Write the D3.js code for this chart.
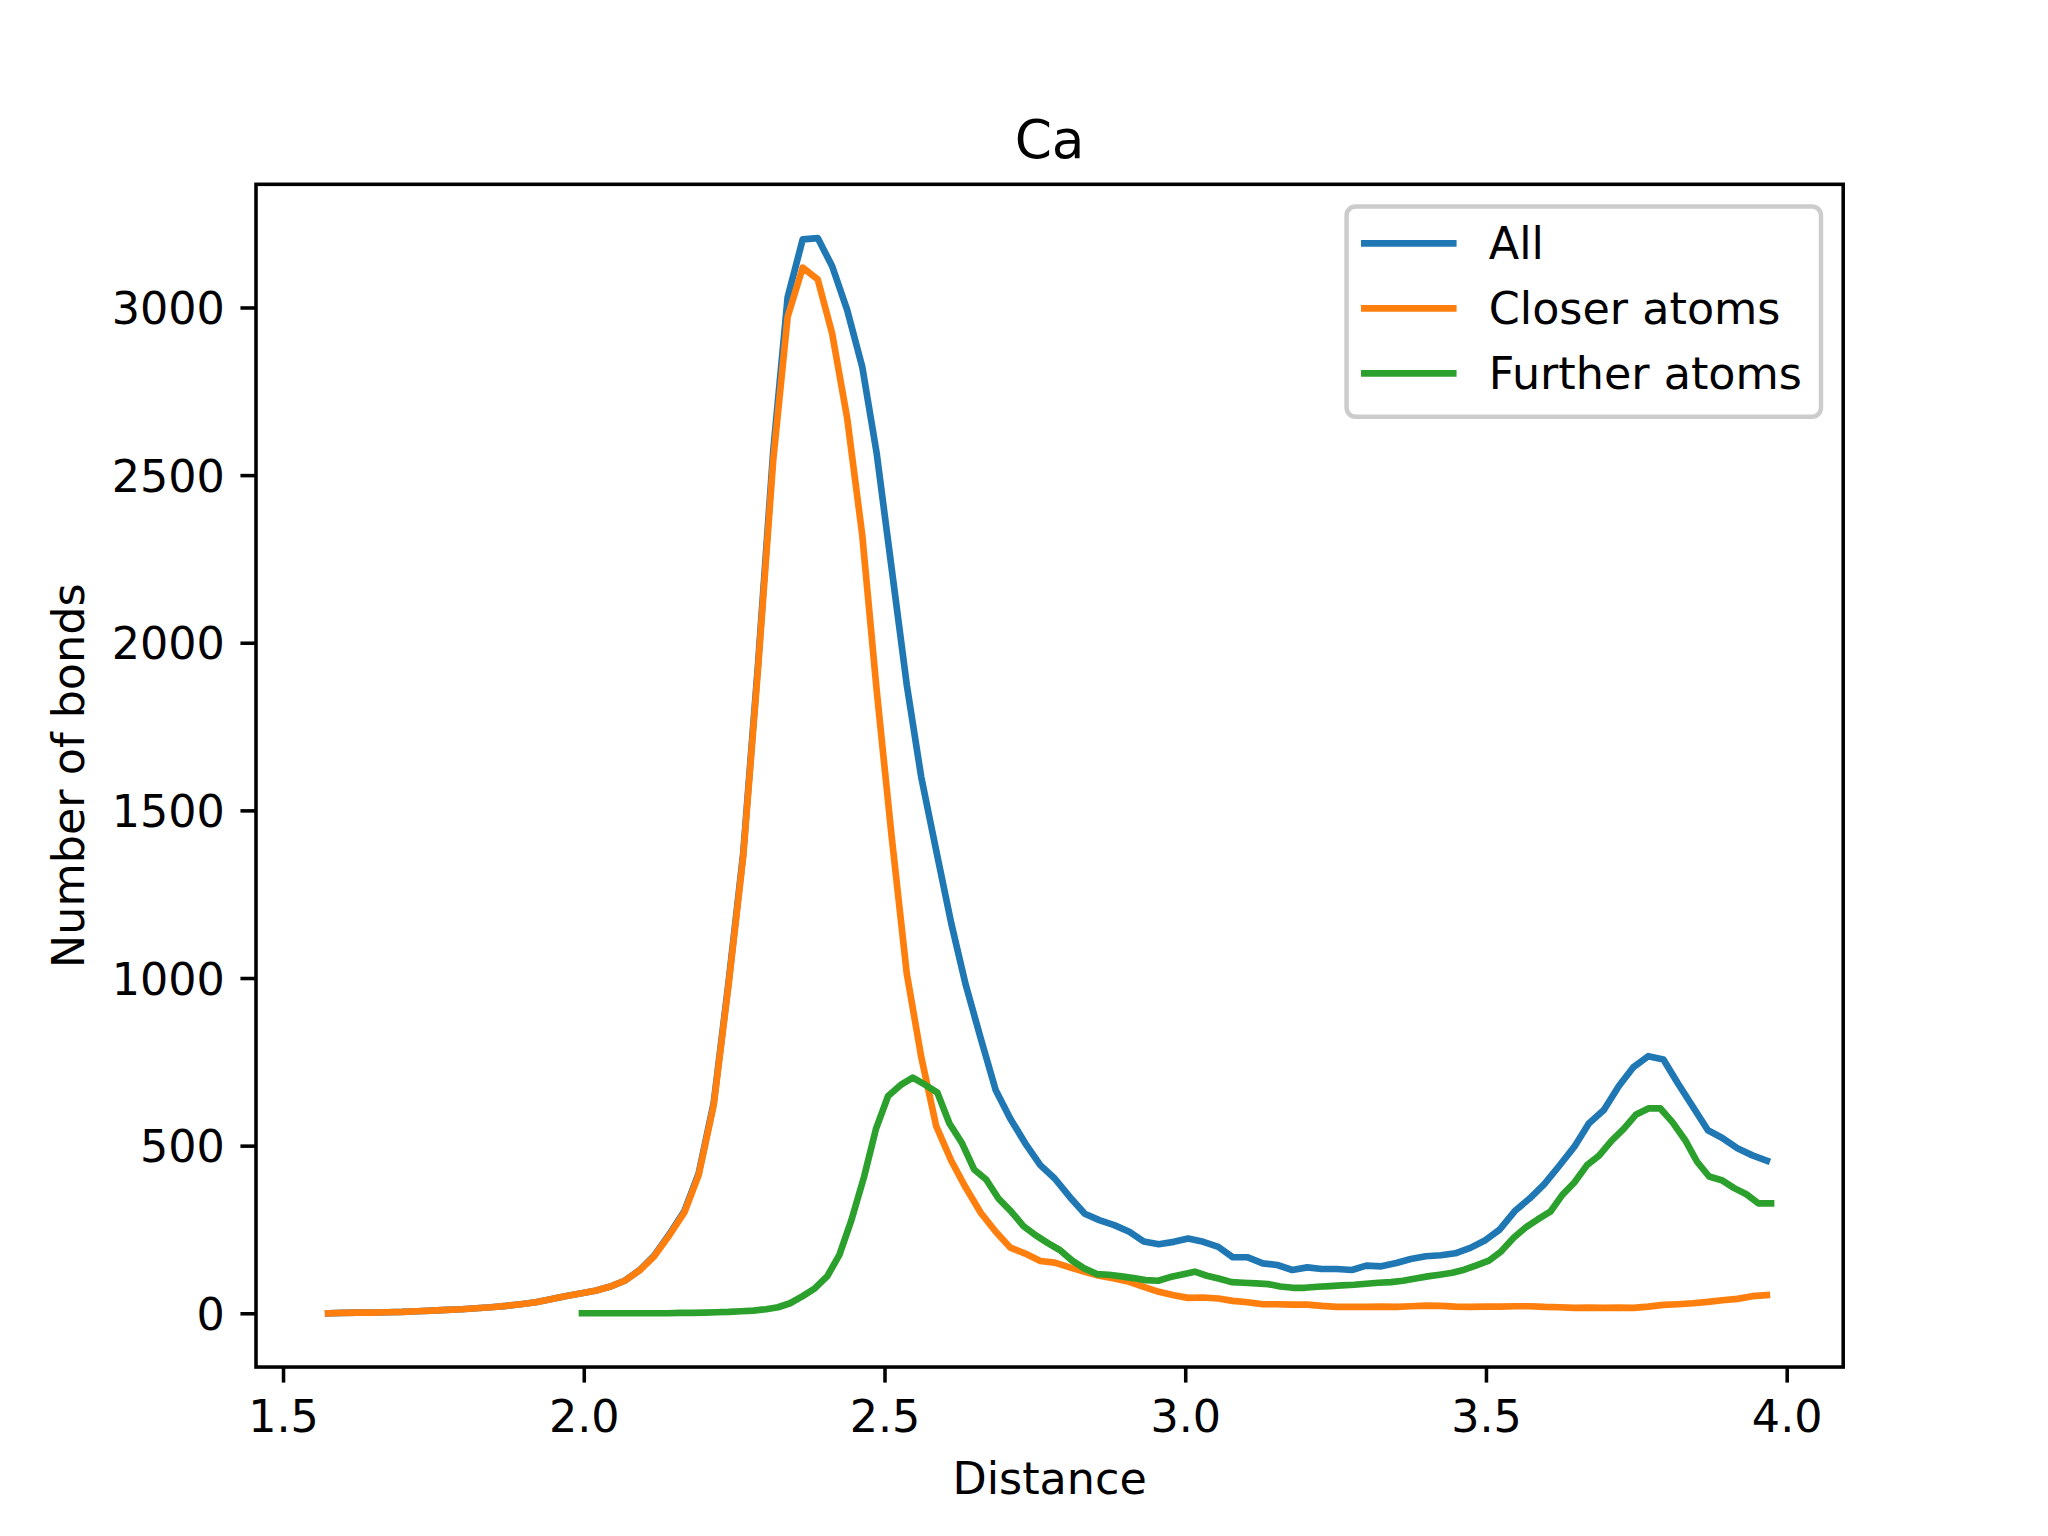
<!DOCTYPE html>
<html>
<head>
<meta charset="utf-8">
<script src="https://cdn.jsdelivr.net/npm/d3@7"></script>
<style>
  html, body { margin: 0; padding: 0; background: #ffffff; }
  svg { display: block; }
  text { font-family: "DejaVu Sans", sans-serif; fill: #000; }
</style>
</head>
<body>
<svg id="chart" width="2048" height="1536"></svg>
<script>
// ---------------- data ----------------
const title = "Ca";
const xLabel = "Distance";
const yLabel = "Number of bonds";
const seriesNames = ["All", "Closer atoms", "Further atoms"];
const seriesColors = ["#1f77b4", "#ff7f0e", "#2ca02c"];

// distance grid shared by "All" and "Closer atoms"
const distAll = [
  1.575, 1.599, 1.624, 1.649, 1.673, 1.698, 1.723, 1.747, 1.772, 1.797,
  1.821, 1.846, 1.871, 1.895, 1.920, 1.945, 1.969, 1.994, 2.019, 2.043,
  2.068, 2.093, 2.117, 2.142, 2.167, 2.191, 2.216, 2.241, 2.265, 2.290,
  2.315, 2.339, 2.364, 2.389, 2.413, 2.438, 2.463, 2.487, 2.512, 2.537,
  2.561, 2.586, 2.611, 2.635, 2.660, 2.685, 2.709, 2.734, 2.759, 2.783,
  2.808, 2.833, 2.857, 2.882, 2.907, 2.931, 2.956, 2.981, 3.005, 3.030,
  3.055, 3.079, 3.104, 3.129, 3.153, 3.178, 3.203, 3.227, 3.252, 3.277,
  3.301, 3.326, 3.351, 3.375, 3.400, 3.425, 3.449, 3.474, 3.499, 3.523,
  3.548, 3.573, 3.597, 3.622, 3.647, 3.671, 3.696, 3.721, 3.745, 3.770,
  3.795, 3.819, 3.844, 3.869, 3.893, 3.918, 3.943, 3.967
];

const countAll = [
  0, 1, 2, 2, 3, 4, 6, 8, 10, 12,
  15, 18, 22, 27, 33, 42, 51, 59, 67, 79,
  97, 129, 172, 235, 304, 417, 627, 991, 1370, 1942,
  2572, 3031, 3203, 3207, 3123, 2992, 2823, 2565, 2220, 1875,
  1600, 1380, 1163, 980, 820, 665, 581, 507, 442, 402,
  347, 297, 278, 263, 243, 214, 206, 213, 223, 213,
  198, 167, 167, 149, 144, 129, 137, 132, 132, 129,
  142, 140, 150, 162, 170, 173, 179, 195, 218, 250,
  305, 343, 385, 440, 497, 566, 606, 678, 734, 767,
  757, 686, 616, 546, 523, 492, 471, 455
];

const countCloser = [
  0, 1, 2, 2, 3, 4, 6, 8, 10, 12,
  15, 18, 22, 27, 33, 42, 51, 59, 67, 79,
  97, 128, 170, 232, 300, 412, 621, 984, 1361, 1930,
  2545, 2972, 3119, 3084, 2922, 2669, 2321, 1858, 1420, 1014,
  765, 558, 455, 375, 300, 243, 196, 178, 156, 151,
  137, 124, 112, 104, 94, 79, 64, 54, 46, 47,
  44, 37, 33, 27, 27, 26, 26, 22, 19, 19,
  19, 20, 19, 21, 23, 22, 20, 19, 20, 20,
  21, 21, 19, 18, 16, 17, 16, 17, 16, 20,
  25, 27, 30, 34, 39, 43, 51, 54
];

// distance grid of "Further atoms"
const distFurther = [
  1.997, 2.017, 2.038, 2.058, 2.078, 2.099, 2.119, 2.140, 2.160, 2.180,
  2.201, 2.221, 2.241, 2.262, 2.282, 2.303, 2.323, 2.343, 2.364, 2.384,
  2.405, 2.425, 2.445, 2.466, 2.486, 2.506, 2.527, 2.547, 2.568, 2.588,
  2.608, 2.629, 2.649, 2.669, 2.690, 2.710, 2.731, 2.751, 2.771, 2.792,
  2.812, 2.832, 2.853, 2.873, 2.894, 2.914, 2.934, 2.955, 2.975, 2.995,
  3.016, 3.036, 3.057, 3.077, 3.097, 3.118, 3.138, 3.158, 3.179, 3.199,
  3.220, 3.240, 3.260, 3.281, 3.301, 3.321, 3.342, 3.362, 3.383, 3.403,
  3.423, 3.444, 3.464, 3.484, 3.505, 3.525, 3.546, 3.566, 3.586, 3.607,
  3.627, 3.647, 3.668, 3.688, 3.709, 3.729, 3.749, 3.770, 3.790, 3.810,
  3.831, 3.851, 3.871, 3.892, 3.912, 3.933, 3.953, 3.974
];

const countFurther = [
  0, 0, 0, 0, 0, 0, 0, 0, 1, 1,
  2, 3, 4, 6, 8, 12, 18, 30, 51, 74,
  111, 174, 278, 407, 551, 648, 681, 703, 681, 658,
  566, 507, 429, 399, 341, 305, 260, 233, 210, 188,
  157, 134, 117, 115, 110, 105, 99, 97, 108, 116,
  124, 112, 103, 93, 91, 89, 87, 80, 76, 76,
  79, 81, 83, 85, 88, 91, 93, 97, 104, 110,
  115, 121, 130, 143, 157, 184, 225, 256, 280, 303,
  353, 390, 442, 470, 515, 550, 592, 611, 611, 570,
  517, 452, 408, 397, 374, 355, 328, 328
];

const xTicks = [1.5, 2.0, 2.5, 3.0, 3.5, 4.0];
const xTickLabels = ["1.5", "2.0", "2.5", "3.0", "3.5", "4.0"];
const yTicks = [0, 500, 1000, 1500, 2000, 2500, 3000];
const yTickLabels = ["0", "500", "1000", "1500", "2000", "2500", "3000"];

// ---------------- layout (matplotlib 6.4x4.8in @ 320 dpi) ----------------
const W = 2048, H = 1536;
const pt = 320 / 72;
const axL = 0.125 * W, axR = 0.9 * W, axT = H - 0.88 * H, axB = H - 0.11 * H;
const fs = 10 * pt;          // tick / label font size
const fsTitle = 12 * pt;
const lw = 1.5 * pt;         // line width
const spineW = 0.8 * pt;
const tickLen = 3.5 * pt, tickPad = 3.5 * pt;

const series = [
  { name: seriesNames[0], color: seriesColors[0], xs: distAll, ys: countAll },
  { name: seriesNames[1], color: seriesColors[1], xs: distAll, ys: countCloser },
  { name: seriesNames[2], color: seriesColors[2], xs: distFurther, ys: countFurther }
];

// autoscale with 5% margins like matplotlib
const allXs = distAll.concat(distFurther);
const allYs = countAll.concat(countCloser, countFurther);
const [x0, x1] = d3.extent(allXs);
const [y0, y1] = d3.extent(allYs);
const mx = (x1 - x0) * 0.05, my = (y1 - y0) * 0.05;

const x = d3.scaleLinear().domain([x0 - mx, x1 + mx]).range([axL, axR]);
const y = d3.scaleLinear().domain([y0 - my, y1 + my]).range([axB, axT]);

const svg = d3.select("#chart");
svg.append("rect").attr("width", W).attr("height", H).attr("fill", "#fff");

// ---------------- lines ----------------
const line = d3.line().x(d => x(d[0])).y(d => y(d[1]));
const plot = svg.append("g");
series.forEach(s => {
  const pts = s.xs.map((v, i) => [v, s.ys[i]]);
  plot.append("path")
    .attr("d", line(pts))
    .attr("fill", "none")
    .attr("stroke", s.color)
    .attr("stroke-width", lw)
    .attr("stroke-linejoin", "round")
    .attr("stroke-linecap", "square");
});

// ---------------- axes ----------------
const xAxis = d3.axisBottom(x)
  .tickValues(xTicks)
  .tickFormat((d, i) => xTickLabels[i])
  .tickSize(tickLen)
  .tickSizeOuter(0)
  .tickPadding(tickPad);
const gx = svg.append("g").attr("transform", `translate(0,${axB})`).call(xAxis);
gx.select(".domain").remove();
gx.selectAll(".tick line").attr("stroke", "#000").attr("stroke-width", spineW);
gx.selectAll(".tick text")
  .attr("y", tickLen + tickPad + 0.76 * fs)
  .attr("dy", null)
  .attr("font-size", fs)
  .attr("font-family", "DejaVu Sans")
  .attr("fill", "#000");

const yAxis = d3.axisLeft(y)
  .tickValues(yTicks)
  .tickFormat((d, i) => yTickLabels[i])
  .tickSize(tickLen)
  .tickSizeOuter(0)
  .tickPadding(tickPad);
const gy = svg.append("g").attr("transform", `translate(${axL},0)`).call(yAxis);
gy.select(".domain").remove();
gy.selectAll(".tick line").attr("stroke", "#000").attr("stroke-width", spineW);
gy.selectAll(".tick text")
  .attr("dy", "0.365em")
  .attr("font-size", fs)
  .attr("font-family", "DejaVu Sans")
  .attr("fill", "#000");

// spines
svg.append("rect")
  .attr("x", axL).attr("y", axT)
  .attr("width", axR - axL).attr("height", axB - axT)
  .attr("fill", "none")
  .attr("stroke", "#000")
  .attr("stroke-width", spineW)
  .attr("stroke-linejoin", "miter");

// ---------------- labels ----------------
svg.append("text")
  .attr("x", (axL + axR) / 2)
  .attr("y", axT - 6 * pt)
  .attr("text-anchor", "middle")
  .attr("font-size", fsTitle)
  .text(title);

svg.append("text")
  .attr("x", (axL + axR) / 2)
  .attr("y", axB + tickLen + tickPad + fs + 4 * pt + 0.76 * fs)
  .attr("text-anchor", "middle")
  .attr("font-size", fs)
  .text(xLabel);

const yLabelX = 83.5;
svg.append("text")
  .attr("transform", `translate(${yLabelX},${(axT + axB) / 2}) rotate(-90)`)
  .attr("text-anchor", "middle")
  .attr("font-size", fs)
  .text(yLabel);

// ---------------- legend ----------------
const legPad = 0.5 * fs;
const legRight = axR - legPad;
const legTop = axT + legPad;
const legW = 474.4, legH = 210.2;
const lg = svg.append("g");
lg.append("rect")
  .attr("x", legRight - legW).attr("y", legTop)
  .attr("width", legW).attr("height", legH)
  .attr("rx", 0.2 * fs).attr("ry", 0.2 * fs)
  .attr("fill", "#fff").attr("fill-opacity", 0.8)
  .attr("stroke", "#cccccc").attr("stroke-width", 1.0 * pt);
const hx0 = legRight - legW + 0.4 * fs;
const hx1 = hx0 + 2.0 * fs;
const rowY0 = 243.3, rowStep = 65;
series.forEach((s, i) => {
  const yy = rowY0 + i * rowStep;
  lg.append("line")
    .attr("x1", hx0).attr("x2", hx1)
    .attr("y1", yy).attr("y2", yy)
    .attr("stroke", s.color)
    .attr("stroke-width", lw)
    .attr("stroke-linecap", "square");
  lg.append("text")
    .attr("x", hx1 + 0.8 * fs)
    .attr("y", yy + 15.5)
    .attr("font-size", fs)
    .text(s.name);
});
</script>
</body>
</html>
